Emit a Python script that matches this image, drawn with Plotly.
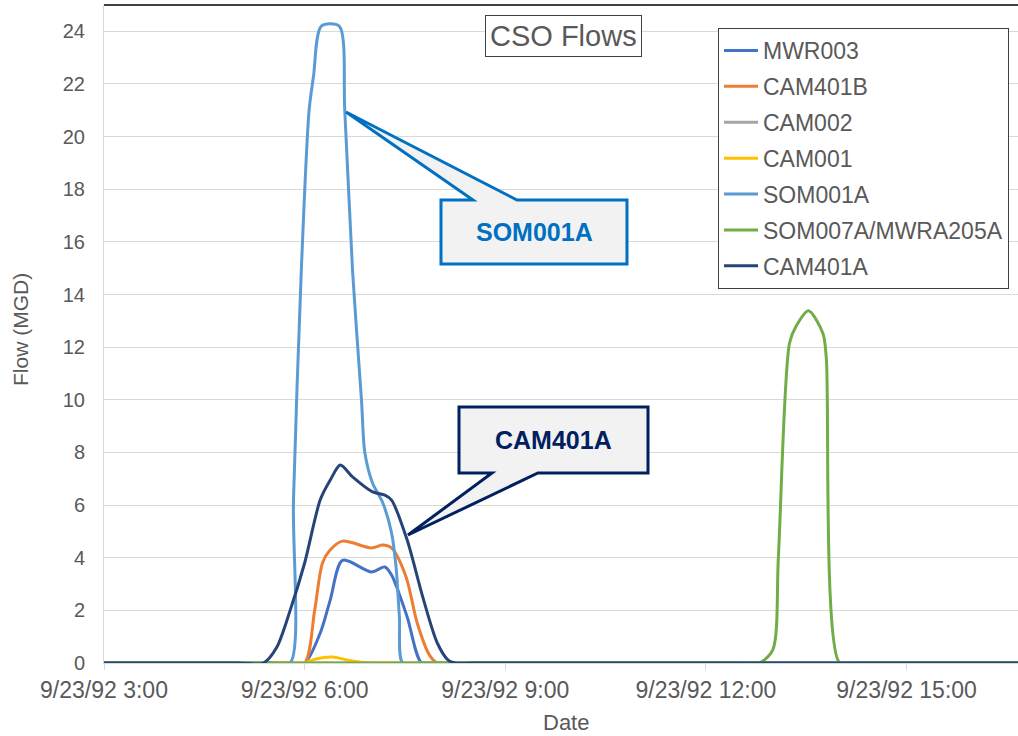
import plotly.graph_objects as go

DAY = "1992-09-23 "

# series data (time of day, flow in MGD)
mwr003_t = ["03:00", "05:45", "06:00", "06:14", "06:23", "06:34", "07:00", "07:12", "07:18",
            "07:32", "07:45", "08:00", "16:45"]
mwr003_v = [0, 0, 0, 1.14, 2.4, 3.9, 3.46, 3.65, 3.34, 1.75, 0, 0, 0]

cam401b_t = ["03:00", "05:45", "06:00", "06:09", "06:16", "06:23", "06:34", "07:00", "07:10",
             "07:18", "07:31", "07:41", "07:52", "07:59", "08:15", "16:45"]
cam401b_v = [0, 0, 0, 2.0, 3.8, 4.3, 4.63, 4.37, 4.48, 4.37, 3.27, 1.52, 0.3, 0, 0, 0]

cam002_t = ["03:00", "16:45"]
cam002_v = [0, 0]

cam001_t = ["03:00", "05:45", "06:00", "06:10", "06:25", "06:40", "07:01", "07:15", "16:45"]
cam001_v = [0, 0, 0, 0.15, 0.23, 0.1, 0, 0, 0]

som001a_t = ["03:00", "05:30", "05:47", "05:50", "05:57", "06:04", "06:08", "06:15", "06:31",
             "06:36", "06:43", "06:51", "06:54", "07:01", "07:10", "07:18", "07:22", "07:25",
             "07:28", "07:45", "16:45"]
som001a_v = [0, 0, 0, 6.2, 14.9, 21.0, 22.3, 24.2, 24.2, 21.0, 14.9, 10.0, 8.0, 6.83, 6.1, 4.94,
             3.66, 1.76, 0, 0, 0]

som007a_t = ["03:00", "12:30", "12:48", "13:00", "13:05", "13:15", "13:21", "13:32", "13:45",
             "13:48", "14:00", "14:15", "16:45"]
som007a_v = [0, 0, 0, 0.5, 4.0, 12.15, 12.8, 13.38, 12.52, 11.6, 0, 0, 0]

cam401a_t = ["03:00", "05:00", "05:23", "05:35", "05:47", "06:00", "06:14", "06:23", "06:32",
             "06:43", "07:01", "07:12", "07:18", "07:32", "07:46", "07:59", "08:09", "08:15",
             "08:30", "16:45"]
cam401a_v = [0, 0, 0, 0.6, 2.0, 3.8, 6.2, 6.95, 7.52, 7.07, 6.5, 6.38, 6.19, 4.67, 2.5, 0.76,
             0.1, 0, 0, 0]

series = [
    ("MWR003", mwr003_t, mwr003_v, "#4472C4"),
    ("CAM401B", cam401b_t, cam401b_v, "#ED7D31"),
    ("CAM002", cam002_t, cam002_v, "#A5A5A5"),
    ("CAM001", cam001_t, cam001_v, "#FFC000"),
    ("SOM001A", som001a_t, som001a_v, "#5B9BD5"),
    ("SOM007A/MWRA205A", som007a_t, som007a_v, "#70AD47"),
    ("CAM401A", cam401a_t, cam401a_v, "#264478"),
]

FONT = "Liberation Sans, Arial, sans-serif"
GREY_TXT = "#595959"

W, H = 1018, 736
L, R, T, B = 104, 0, 5, 73


# pixel -> paper helpers for the annotation boxes
def px(x):
    return (x - L) / (W - L - R)


def py(y):
    return (H - B - y) / (H - B - T)


def path(points):
    s = "M " + " L ".join("%.4f,%.4f" % (px(a), py(b)) for a, b in points)
    return s + " Z"


fig = go.Figure()

for name, t, v, color in series:
    fig.add_trace(go.Scatter(
        x=[DAY + s for s in t],
        y=v,
        name=name,
        legendgroup=name,
        mode="lines",
        line=dict(color=color, width=3, shape="spline", smoothing=0.8),
    ))

shapes = []
# SOM001A callout
shapes.append(dict(
    type="path", xref="paper", yref="paper",
    path=path([(441, 200), (473, 200), (346, 112), (517, 200), (627, 200), (627, 264), (441, 264)]),
    fillcolor="#F2F2F2", line=dict(color="#0070C0", width=3),
))
# CAM401A callout
shapes.append(dict(
    type="path", xref="paper", yref="paper",
    path=path([(459, 407), (648, 407), (648, 473), (538, 473), (408, 535), (492, 473), (459, 473)]),
    fillcolor="#F2F2F2", line=dict(color="#002060", width=3),
))
# top border line
shapes.append(dict(
    type="line", xref="paper", yref="paper", x0=0, x1=1, y0=1, y1=1,
    line=dict(color="black", width=1.5),
))


def label(text, x, y, size, color, **kw):
    return dict(text=text, x=px(x), y=py(y), xref="paper", yref="paper", showarrow=False,
                xanchor="center", yanchor="middle",
                font=dict(family=FONT, size=size, color=color), **kw)


annotations = [
    label("<b>SOM001A</b>", 534, 232, 25, "#0070C0"),
    label("<b>CAM401A</b>", 553, 440, 25, "#002060"),
    label("CSO Flows", 563, 36, 29, GREY_TXT, bgcolor="white",
          bordercolor="#404040", borderwidth=1, borderpad=4),
    label("Flow (MGD)", 20, 330, 21, GREY_TXT, textangle=-90),
    label("Date", 566, 722, 22, GREY_TXT),
]

fig.update_layout(
    width=W, height=H,
    margin=dict(l=L, r=R, t=T, b=B),
    paper_bgcolor="white", plot_bgcolor="white",
    font=dict(family=FONT, color=GREY_TXT),
    shapes=shapes,
    annotations=annotations,
    legend=dict(
        x=px(718), y=py(28), xanchor="left", yanchor="top",
        bgcolor="white", bordercolor="#404040", borderwidth=1,
        font=dict(family=FONT, size=23, color=GREY_TXT),
        tracegroupgap=3, itemwidth=34,
    ),
)

fig.update_xaxes(
    type="date",
    range=[DAY + "03:00", DAY + "16:40"],
    tick0=DAY + "03:00", dtick=3 * 3600 * 1000,
    tickformat="%-m/%-d/%y %-H:%M",
    tickfont=dict(family=FONT, size=23, color=GREY_TXT),
    ticks="outside", ticklen=6, tickcolor="#D9D9D9",
    showgrid=False, zeroline=False,
    showline=True, linecolor="#D9D9D9",
    ticklabelstandoff=0,
    automargin=False,
)
fig.update_yaxes(
    range=[0, 25],
    dtick=2,
    tickfont=dict(family=FONT, size=20, color=GREY_TXT),
    showgrid=True, gridcolor="#D9D9D9", gridwidth=1,
    zeroline=False,
    showline=True, linecolor="#D9D9D9",
    ticks="", ticklabelstandoff=14,
    automargin=False,
)

fig.write_html("out.html", config={"displayModeBar": False},
               post_script="document.body.style.margin = '0';")
